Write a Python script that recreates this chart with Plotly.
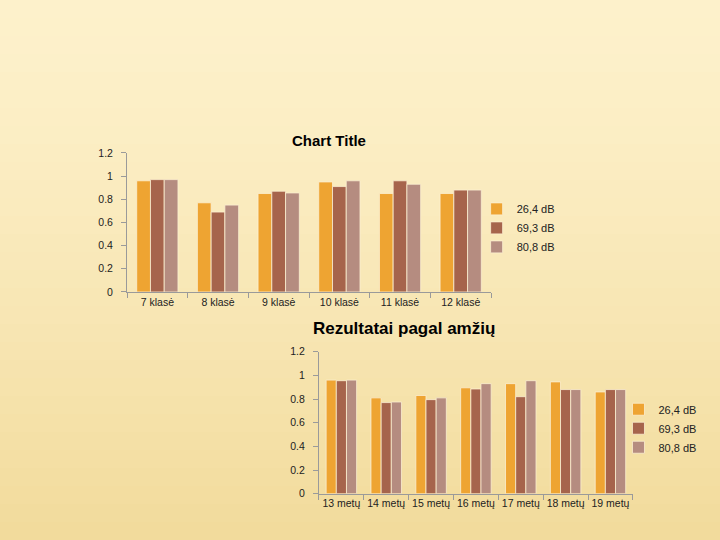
import plotly.graph_objects as go

# ---- data ----
classes = ["7 klasė", "8 klasė", "9 klasė", "10 klasė", "11 klasė", "12 klasė"]
cls_26 = [0.96, 0.77, 0.85, 0.95, 0.85, 0.85]
cls_69 = [0.97, 0.69, 0.87, 0.91, 0.96, 0.88]
cls_80 = [0.97, 0.75, 0.855, 0.96, 0.93, 0.88]

ages = ["13 metų", "14 metų", "15 metų", "16 metų", "17 metų", "18 metų", "19 metų"]
age_26 = [0.96, 0.81, 0.83, 0.895, 0.93, 0.945, 0.86]
age_69 = [0.955, 0.77, 0.795, 0.885, 0.82, 0.88, 0.88]
age_80 = [0.96, 0.775, 0.81, 0.93, 0.955, 0.88, 0.88]

series_names = ["26,4 dB", "69,3 dB", "80,8 dB"]
colors = ["#EEA432", "#A6644C", "#B58C80"]

fig = go.Figure()

for name, vals, col in zip(series_names, [cls_26, cls_69, cls_80], colors):
    fig.add_trace(go.Bar(x=classes, y=vals, name=name, marker=dict(color=col, line=dict(color="#FBEFD0", width=0.8)),
                         xaxis="x", yaxis="y", legend="legend"))
for name, vals, col in zip(series_names, [age_26, age_69, age_80], colors):
    fig.add_trace(go.Bar(x=ages, y=vals, name=name, marker=dict(color=col, line=dict(color="#FBEFD0", width=0.8)),
                         xaxis="x2", yaxis="y2", legend="legend2"))

# background gradient bands
shapes = []
n = 30
top = (253, 241, 203)
bot = (242, 219, 156)
for i in range(n):
    t = i / (n - 1)
    t2 = t ** 1.3
    c = tuple(int(round(top[k] + (bot[k] - top[k]) * t2)) for k in range(3))
    shapes.append(dict(type="rect", xref="paper", yref="paper", x0=0, x1=1,
                       y0=1 - (i + 1) / n, y1=1 - i / n, fillcolor="rgb(%d,%d,%d)" % c,
                       line=dict(width=0), layer="below"))

tickfont = dict(family="Liberation Sans, Arial, sans-serif", size=10.5, color="#222222")
legfont = dict(family="Liberation Sans, Arial, sans-serif", size=11, color="#222222")
axline = dict(showline=True, linecolor="#9A9A9A", linewidth=1, ticks="outside", ticklen=5,
              tickcolor="#9A9A9A", showgrid=False, zeroline=False, tickfont=tickfont,
              automargin=False, tickangle=0)

fig.update_layout(
    width=720, height=540,
    margin=dict(l=0, r=0, t=0, b=0, autoexpand=False),
    paper_bgcolor="#FBEDC4", plot_bgcolor="rgba(0,0,0,0)",
    barmode="group", bargap=0.32, bargroupgap=0,
    shapes=shapes,
    xaxis=dict(domain=[0.1764, 0.682], anchor="y", tickson="boundaries", **axline),
    yaxis=dict(domain=[0.4593, 0.7167], anchor="x", range=[0, 1.2], dtick=0.2, ticklabelstandoff=6, **axline),
    xaxis2=dict(domain=[0.443, 0.879], anchor="y2", tickson="boundaries", **axline),
    yaxis2=dict(domain=[0.0857, 0.3487], anchor="x2", range=[0, 1.2], dtick=0.2, ticklabelstandoff=6, **axline),
    legend=dict(x=0.662, y=0.578, xanchor="left", yanchor="middle", bgcolor="rgba(0,0,0,0)",
                font=legfont, itemwidth=30, tracegroupgap=0),
    legend2=dict(x=0.859, y=0.207, xanchor="left", yanchor="middle", bgcolor="rgba(0,0,0,0)",
                 font=legfont, itemwidth=30, tracegroupgap=0),
    annotations=[
        dict(text="<b>Chart Title</b>", x=329 / 720, y=1 - 130 / 540, xref="paper", yref="paper",
             showarrow=False, font=dict(family="Liberation Sans, Arial, sans-serif", size=15, color="#000000")),
        dict(text="<b>Rezultatai pagal amžių</b>", x=497 / 720, y=1 - 328 / 540, xref="paper", yref="paper",
             showarrow=False, font=dict(family="Liberation Sans, Arial, sans-serif", size=17, color="#000000")),
    ],
    showlegend=True,
)

fig.write_html("out.html")
